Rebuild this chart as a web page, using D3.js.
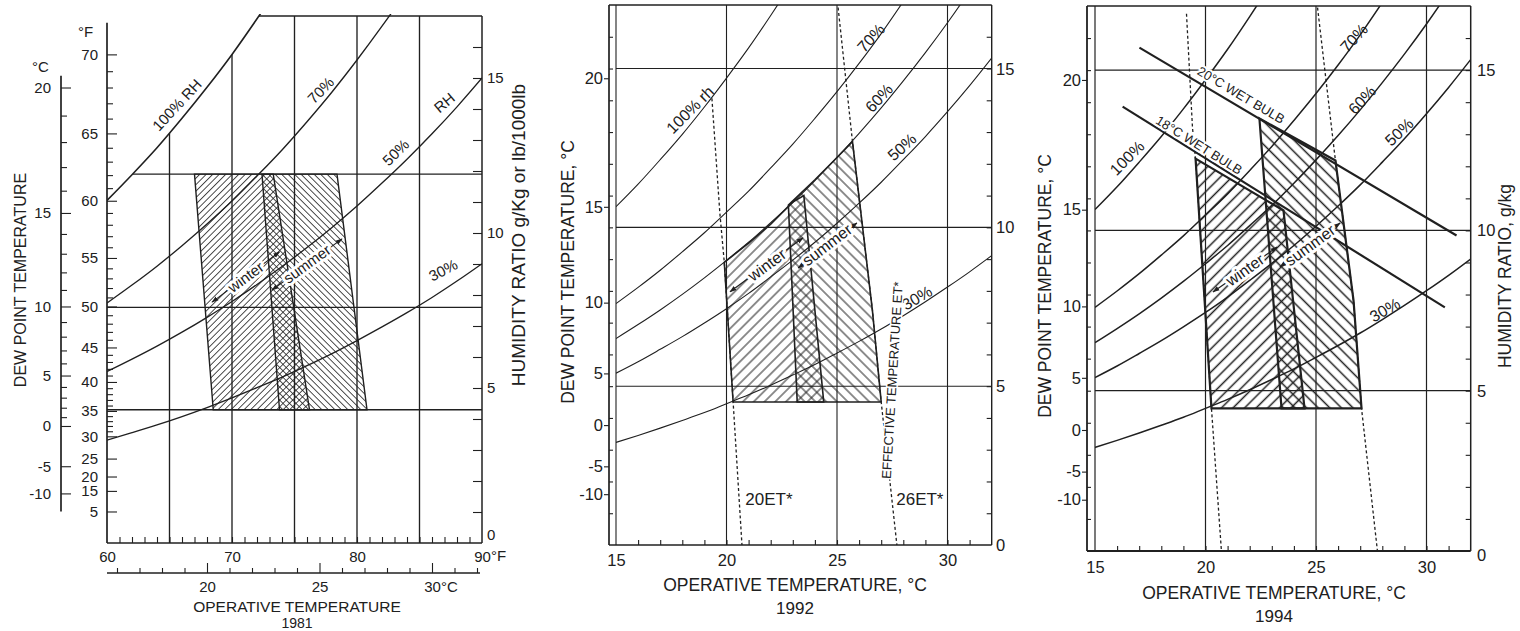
<!DOCTYPE html>
<html><head><meta charset="utf-8">
<script src="https://cdn.jsdelivr.net/npm/d3@7/dist/d3.min.js"></script>
<style>html,body{margin:0;padding:0;background:#fff;overflow:hidden}svg{display:block}</style>
</head><body>
<svg id="chart" width="1520" height="631"></svg>
<script>
// ================= DATA =================
// --- 1981 panel: operative temperature in °F, humidity ratio in g/kg ---
const tempF  = [60,62,64,66,68,70,72,74,76,78,80,82,84,86,88,90];
const rh100F = [11.05,11.88,12.75,13.70,14.70,15.76,16.91,18.12,19.41,20.79,22.25,23.81,25.45,27.20,29.07,31.06];
const rh70F  = [7.74,8.32,8.93,9.59,10.29,11.03,11.84,12.68,13.59,14.55,15.58,16.67,17.82,19.04,20.35,21.74];
const rh50F  = [5.53,5.93,6.35,6.80,7.28,7.79,8.34,8.92,9.53,10.18,10.87,11.61,12.38,13.20,14.07,15.00];
const rh30F  = [3.32,3.56,3.81,4.08,4.37,4.68,5.01,5.35,5.72,6.11,6.53,6.97,7.43,7.92,8.45,9.01];
const gridF1981 = [65,70,75,80,85];
const gridW1981 = [11.9,7.6,4.3];
const winter1981 = [[67.0,11.9],[73.3,11.9],[76.2,4.3],[68.5,4.3]];
const summer1981 = [[72.4,11.9],[78.4,11.9],[80.8,4.3],[73.8,4.3]];
const opTicksF1981 = [60,70,80,90];
const opTicksC1981 = [20,25,30];
const dewTicksF1981 = [70,65,60,55,50,45,40,35,30,25,20,15,5];
const dewTicksC = [20,15,10,5,0,-5,-10];
const humTicks = [0,5,10,15];

// --- 1992 / 1994 panels: operative temperature in °C, humidity ratio in g/kg ---
const tempC  = [15,16,17,18,19,20,21,22,23,24,25,26,27,28,29,30,31,32];
const rh100C = [10.65,11.36,12.13,12.93,13.79,14.70,15.65,16.67,17.74,18.88,20.08,21.35,22.70,24.12,25.62,27.20,28.88,30.65];
const rh70C  = [7.60,8.11,8.65,9.23,9.83,10.48,11.14,11.87,12.62,13.43,14.27,15.16,16.10,17.11,18.15,19.27,20.44,21.68];
const rh60C  = [6.50,6.94,7.40,7.89,8.41,8.96,9.53,10.15,10.78,11.47,12.20,12.96,13.76,14.61,15.50,16.44,17.44,18.49];
const rh50C  = [5.41,5.77,6.16,6.56,6.99,7.44,7.92,8.44,8.97,9.53,10.13,10.76,11.42,12.13,12.86,13.64,14.46,15.33];
const rh30C  = [3.23,3.45,3.68,3.92,4.17,4.45,4.73,5.03,5.35,5.68,6.04,6.41,6.80,7.22,7.66,8.12,8.60,9.11];
const gridC = [15,20,25,30];
const gridW = [5,10,15];
const opTicksC = [15,20,25,30];

const winter1992 = [[19.9,8.9],[21,9.5],[22,10.1],[23,10.8],[23.5,11.0],[24.4,4.5],[20.3,4.5]];
const summer1992 = [[22.8,10.7],[24,11.5],[25,12.2],[25.7,12.7],[26.6,7.4],[27.0,4.5],[23.2,4.5]];
const et20_1992 = [[19.34,14.06],[19.7,10.44],[19.9,8.9],[20.3,4.5],[20.7,0]];
const et26_1992 = [[25.05,16.92],[25.7,12.7],[26.6,7.4],[27.0,4.5],[27.71,0]];

const winter1994 = [[19.55,12.24],[23.53,10.62],[24.48,4.45],[20.27,4.45]];
const summer1994 = [[22.44,13.49],[25.88,12.18],[26.7,7.8],[27.06,4.45],[23.44,4.45]];
const et20_1994 = [[19.14,16.76],[19.41,13.21],[19.55,12.24],[20.27,4.45],[20.72,0]];
const et26_1994 = [[25.07,16.95],[25.84,12.4],[26.7,7.8],[27.06,4.45],[27.78,0]];
const wetBulb20 = [[17.01,15.70],[31.36,9.84]];
const wetBulb18 = [[16.25,13.86],[30.83,7.60]];

// ================= SETUP =================
const FONT = "'Liberation Sans', Arial, Helvetica, sans-serif";
const INK = "#202020";
const svg = d3.select("#chart");
const defs = svg.append("defs");
svg.append("rect").attr("width",1520).attr("height",631).attr("fill","#fff");

function hatch(id, s, angle, w){
  const p = defs.append("pattern").attr("id",id).attr("patternUnits","userSpaceOnUse")
    .attr("width",s).attr("height",s).attr("patternTransform",`rotate(${angle})`);
  p.append("line").attr("x1",s/2).attr("x2",s/2).attr("y1",0).attr("y2",s)
    .attr("stroke",INK).attr("stroke-width",w);
}
hatch("h81w",4.6,45,0.8);  hatch("h81s",4.6,-45,0.8);
hatch("h92w",7.6,45,1.0);  hatch("h92s",7.6,-45,1.0);
hatch("h94w",8.2,45,1.5);  hatch("h94s",8.2,-45,1.5);

defs.append("marker").attr("id","arr").attr("viewBox","0 0 10 10").attr("refX",9).attr("refY",5)
  .attr("markerWidth",7).attr("markerHeight",7).attr("orient","auto-start-reverse")
  .attr("markerUnits","userSpaceOnUse")
  .append("path").attr("d","M0,1.5 L10,5 L0,8.5 Z").attr("fill",INK);

// saturation humidity ratio (g/kg) at a dew point (°C): used to build the dew-point scales
function pws(t){ return t>=0 ? 0.61121*Math.exp((18.678-t/234.5)*(t/(257.14+t)))
                              : 0.61115*Math.exp((23.036-t/333.7)*(t/(279.82+t))); }
function satW(t){ const p = pws(t); return 622*p/(101.325-p); }
function dewScale(yS, conv){
  conv = conv || (d=>d);
  const f = d => yS(satW(conv(d)));
  f.copy = () => f; f.range = () => yS.range(); f.domain = () => yS.domain();
  return f;
}

const zip = (a,b) => a.map((v,i)=>[v,b[i]]);
function seg(g,x1,y1,x2,y2,w,dash){
  const l = g.append("line").attr("x1",x1).attr("y1",y1).attr("x2",x2).attr("y2",y2)
    .attr("stroke",INK).attr("stroke-width",w||1.1);
  if(dash) l.attr("stroke-dasharray",dash);
  return l;
}
function addText(g,x,y,s,o){
  o = o||{};
  const t = g.append("text").attr("x",x).attr("y",y).text(s)
    .attr("font-family",FONT).attr("font-size",o.size||16).attr("fill",INK)
    .attr("text-anchor",o.anchor||"middle");
  if(o.rotate!==undefined) t.attr("transform",`rotate(${o.rotate},${x},${y})`);
  if(o.dy) t.attr("dy",o.dy);
  if(o.halo) t.attr("stroke","#fff").attr("stroke-width",o.halo).attr("paint-order","stroke").attr("stroke-linejoin","round");
  return t;
}
function axisAt(parent,tx,ty,axis,size,w){
  const s = parent.append("g").attr("transform",`translate(${tx},${ty})`).call(axis);
  s.select(".domain").remove();
  s.selectAll(".tick line").attr("stroke",INK).attr("stroke-width",w||1.1);
  s.selectAll(".tick text").attr("fill",INK).attr("font-size",size||16).attr("font-family",FONT);
  s.attr("font-size",null).attr("font-family",null);
  return s;
}
function arrowLabel(g,x,y,a,b,label,pos,size,lw){
  const p1=[x(a[0]),y(a[1])], p2=[x(b[0]),y(b[1])];
  g.append("line").attr("x1",p1[0]).attr("y1",p1[1]).attr("x2",p2[0]).attr("y2",p2[1])
    .attr("stroke",INK).attr("stroke-width",lw||1.1)
    .attr("marker-start","url(#arr)").attr("marker-end","url(#arr)");
  const ang = Math.atan2(p2[1]-p1[1],p2[0]-p1[0])*180/Math.PI;
  addText(g,x(pos[0]),y(pos[1]),label,{size:size,rotate:ang,halo:6,dy:"0.35em"});
}

// ================= PANEL 1 : 1981 =================
(function(){
  const g = svg.append("g");
  const x  = d3.scaleLinear().domain([60,90]).range([107,482]);
  const xc = d3.scaleLinear().domain([(60-32)/1.8,(90-32)/1.8]).range([107,482]);
  const y  = d3.scaleLinear().domain([0,17]).range([543,16]);
  const dewF = dewScale(y, f=>(f-32)/1.8), dewC = dewScale(y);
  const sat = zip(tempF, rh100F);
  defs.append("clipPath").attr("id","c81r").append("rect")
    .attr("x",x(60)).attr("y",y(17)-2).attr("width",x(90)-x(60)+2).attr("height",y(0)-y(17)+2);
  defs.append("clipPath").attr("id","c81s").append("path")
    .attr("d", d3.area().x(d=>x(d[0])).y0(y(-1)).y1(d=>y(d[1])).curve(d3.curveMonotoneX)(sat));
  const gr = g.append("g").attr("clip-path","url(#c81r)");
  const gs = gr.append("g").attr("clip-path","url(#c81s)");
  const lw = 1.35;
  gridF1981.forEach(v=>seg(gs,x(v),y(0),x(v),y(17),lw));
  gridW1981.forEach(v=>seg(gs,x(60),y(v),x(90),y(v),lw));
  seg(gs,x(60),y(17),x(90),y(17),1.5);
  const cv = d3.line().x(d=>x(d[0])).y(d=>y(d[1])).curve(d3.curveMonotoneX);
  [rh70F,rh50F,rh30F].forEach(a=>gs.append("path").attr("d",cv(zip(tempF,a)))
    .attr("fill","none").attr("stroke",INK).attr("stroke-width",lw));
  gr.append("path").attr("d",cv(sat)).attr("fill","none").attr("stroke",INK).attr("stroke-width",1.6);
  // frame
  seg(g,x(60),y(0),x(90),y(0),1.6);
  seg(g,x(90),y(0),x(90),y(17),1.5);
  seg(g,x(60),y(0),x(60),dewF(71.8),1.7);
  // comfort zones
  const poly = d3.line().x(d=>x(d[0])).y(d=>y(d[1])).curve(d3.curveLinearClosed);
  g.append("path").attr("d",poly(winter1981)).attr("fill","url(#h81w)").attr("stroke",INK).attr("stroke-width",1.4);
  g.append("path").attr("d",poly(summer1981)).attr("fill","url(#h81s)").attr("stroke",INK).attr("stroke-width",1.4);
  // labels on curves
  [["100% RH",65.6,14.13,-47],["70%",77.1,14.6,-46],["RH",87.0,14.2,-40],["50%",83.1,12.6,-45],["30%",86.9,8.8,-27]]
    .forEach(l=>addText(g,x(l[1]),y(l[2]),l[0],{size:15,rotate:l[3],dy:"0.35em"}));
  arrowLabel(g,x,y,[68.4,7.77],[73.8,9.39],"winter",[71.1,8.58],15);
  arrowLabel(g,x,y,[73.2,8.16],[78.8,9.81],"summer",[76.0,9.0],15);
  // bottom °F axis
  axisAt(g,0,y(0),d3.axisBottom(x).tickValues(d3.range(61,90)).tickSize(-6).tickFormat(""));
  axisAt(g,0,y(0),d3.axisBottom(x).tickValues(opTicksF1981).tickSize(0).tickPadding(8),15);
  addText(g,x(90)+9,561,"°F",{size:15,anchor:"start"});
  // bottom °C axis
  seg(g,x(60),573,x(90)-2,573,1.4);
  axisAt(g,0,573,d3.axisBottom(xc).tickValues(d3.range(16,33).filter(v=>v%5)).tickSize(-5).tickFormat(""));
  axisAt(g,0,573,d3.axisBottom(xc).tickValues(opTicksC1981).tickSize(-10).tickFormat(""));
  axisAt(g,0,573,d3.axisBottom(xc).tickValues(opTicksC1981).tickSize(0).tickPadding(8),15);
  addText(g,xc(30)+9,592,"°C",{size:15,anchor:"start"});
  addText(g,297,612,"OPERATIVE TEMPERATURE",{size:15.5});
  addText(g,297,628,"1981",{size:14});
  // right humidity ratio axis
  axisAt(g,x(90),0,d3.axisLeft(y).tickValues(d3.range(1,17)).tickSize(9).tickFormat(""));
  humTicks.forEach(v=>addText(g,487,y(v)+5-(v===0?8:0),String(v),{size:15,anchor:"start"}));
  addText(g,525,235,"HUMIDITY RATIO g/Kg or lb/1000lb",{size:19,rotate:-90});
  // left dew-point °F axis
  axisAt(g,x(60),0,d3.axisRight(dewF).tickValues(dewTicksF1981).tickSize(10).tickFormat(""));
  axisAt(g,x(60),0,d3.axisRight(dewF).tickValues(d3.range(31,70).filter(v=>v%5)).tickSize(6).tickFormat(""));
  axisAt(g,x(60),0,d3.axisLeft(dewF).tickValues(dewTicksF1981).tickSize(0).tickPadding(9),15);
  addText(g,78,37,"°F",{size:15,anchor:"start"});
  // left dew-point °C axis
  seg(g,61,dewC(20.4),61,dewC(-15),1.7);
  axisAt(g,61,0,d3.axisRight(dewC).tickValues(dewTicksC).tickSize(10).tickFormat(""));
  axisAt(g,61,0,d3.axisRight(dewC).tickValues(d3.range(1,20).filter(v=>v%5)).tickSize(6).tickFormat(""));
  axisAt(g,61,0,d3.axisLeft(dewC).tickValues(dewTicksC).tickSize(0).tickPadding(10),15);
  addText(g,32,72,"°C",{size:15,anchor:"start"});
  addText(g,26,280,"DEW POINT TEMPERATURE",{size:16,rotate:-90});
})();

// ================= PANELS 2 & 3 : 1992 / 1994 =================
function buildSI(o){
  const g = svg.append("g");
  const x = d3.scaleLinear().domain([15,32]).range(o.xr);
  const y = d3.scaleLinear().domain([0,17]).range(o.yr);
  const dew = dewScale(y);
  const cid = "clip"+o.year;
  defs.append("clipPath").attr("id",cid).append("rect")
    .attr("x",x(15)).attr("y",y(17)).attr("width",x(32)-x(15)).attr("height",y(0)-y(17));
  const lw = o.lw;
  gridC.forEach(v=>seg(g,x(v),y(0),x(v),y(17),lw));
  gridW.forEach(v=>seg(g,x(15),y(v),x(32),y(v),lw));
  // frame
  seg(g,o.axisX,y(17),x(32),y(17),lw+0.3);
  seg(g,o.axisX,y(0),x(32),y(0),lw+0.6);
  seg(g,o.axisX,y(0),o.axisX,y(17),lw+0.6);
  seg(g,x(32),y(0),x(32),y(17),lw+0.3);
  // RH curves
  const gc = g.append("g").attr("clip-path",`url(#${cid})`);
  const cv = d3.line().x(d=>x(d[0])).y(d=>y(d[1])).curve(d3.curveMonotoneX);
  [rh100C,rh70C,rh60C,rh50C,rh30C].forEach(a=>gc.append("path").attr("d",cv(zip(tempC,a)))
    .attr("fill","none").attr("stroke",INK).attr("stroke-width",o.cw));
  const ln = d3.line().x(d=>x(d[0])).y(d=>y(d[1]));
  [o.et20,o.et26].forEach(a=>g.append("path").attr("d",ln(a)).attr("fill","none")
    .attr("stroke",INK).attr("stroke-width",1.3).attr("stroke-dasharray","3,2.5"));
  (o.wetBulb||[]).forEach(a=>g.append("path").attr("d",ln(a)).attr("fill","none")
    .attr("stroke",INK).attr("stroke-width",o.zw));
  // zones
  const poly = d3.line().x(d=>x(d[0])).y(d=>y(d[1])).curve(d3.curveLinearClosed);
  g.append("path").attr("d",poly(o.winter)).attr("fill",`url(#${o.hw})`).attr("stroke",INK).attr("stroke-width",o.zw);
  g.append("path").attr("d",poly(o.summer)).attr("fill",`url(#${o.hs})`).attr("stroke",INK).attr("stroke-width",o.zw);
  // labels
  o.rhLabels.forEach(l=>addText(g,x(l[1]),y(l[2]),l[0],{size:16,rotate:l[3],dy:"0.35em"}));
  (o.wbLabels||[]).forEach(l=>{
    const p1=[x(l[4][0][0]),y(l[4][0][1])], p2=[x(l[4][1][0]),y(l[4][1][1])];
    const ang = Math.atan2(p2[1]-p1[1],p2[0]-p1[0])*180/Math.PI;
    addText(g,x(l[1]),y(l[2]),l[0],{size:l[3],rotate:ang,dy:"0.35em",halo:4});
  });
  (o.extraText||[]).forEach(l=>addText(g,x(l[1]),y(l[2]),l[0],{size:l[3],rotate:l[4],anchor:l[5]||"middle",dy:l[6],halo:l[7]}));
  arrowLabel(g,x,y,o.wArrow[0],o.wArrow[1],"winter",o.wArrow[2],16,1.2);
  arrowLabel(g,x,y,o.sArrow[0],o.sArrow[1],"summer",o.sArrow[2],16,1.2);
  // axes
  axisAt(g,0,y(0),d3.axisBottom(x).tickValues(d3.range(16,32)).tickSize(-5).tickFormat(""));
  axisAt(g,0,y(0),d3.axisBottom(x).tickValues(opTicksC).tickSize(0).tickPadding(o.xPad),16.5);
  axisAt(g,x(32),0,d3.axisLeft(y).tickValues(d3.range(1,17)).tickSize(5).tickFormat(""));
  humTicks.forEach(v=>addText(g,o.rLabX,y(v)+6+(v===0?o.zeroShift:0),String(v),{size:16.5,anchor:"start"}));
  axisAt(g,o.axisX,0,d3.axisRight(y).tickValues(d3.range(1,17)).tickSize(4).tickFormat(""));
  axisAt(g,o.axisX,0,d3.axisLeft(dew).tickValues(dewTicksC).tickSize(5).tickPadding(1),16.5);
  // titles
  addText(g,o.ltX,o.ltY,"DEW POINT TEMPERATURE, °C",{size:17.5,rotate:-90});
  addText(g,x(23.1),o.titleY,"OPERATIVE TEMPERATURE, °C",{size:17.5});
  addText(g,x(23.1),o.titleY+23,String(o.year),{size:17});
  if(o.rightTitle) addText(g,o.rightTitle[1],o.rightTitle[2],o.rightTitle[0],{size:17.5,rotate:-90});
}

buildSI({
  year:1992, xr:[616,991.7], yr:[545,5], axisX:609, lw:1.1, cw:1.1, zw:1.6,
  hw:"h92w", hs:"h92s", winter:winter1992, summer:summer1992, et20:et20_1992, et26:et26_1992,
  rhLabels:[["100% rh",18.35,13.70,-45],["70%",26.54,15.96,-47],["60%",26.90,14.07,-47],["50%",27.94,12.53,-42],["30%",28.62,7.78,-30]],
  extraText:[["20ET*",20.85,1.26,17,0,"start",null,null],["26ET*",27.68,1.26,17,0,"start",null,null],
             ["EFFECTIVE TEMPERATURE ET*",27.5,5.19,13,-86.5,"middle","0.35em",3]],
  wArrow:[[20.16,7.97],[23.46,9.67],[21.83,8.82]],
  sArrow:[[23.24,8.72],[25.9,10.14],[24.55,9.45]],
  xPad:9.5, rLabX:996, zeroShift:0, ltX:574, ltY:272, titleY:591
});

buildSI({
  year:1994, xr:[1095,1470.7], yr:[551,6], axisX:1087, lw:1.2, cw:1.5, zw:2.2,
  hw:"h94w", hs:"h94s", winter:winter1994, summer:summer1994, et20:et20_1994, et26:et26_1994,
  wetBulb:[wetBulb20, wetBulb18],
  rhLabels:[["100%",16.45,12.26,-45],["70%",26.72,16.0,-47],["60%",27.08,14.07,-47],["50%",28.76,13.07,-43],["30%",28.12,7.52,-30]],
  wbLabels:[["20°C WET BULB",21.61,14.22,13,wetBulb20],["18°C WET BULB",19.71,12.66,13,wetBulb18]],
  wArrow:[[20.34,8.08],[23.24,9.48],[21.79,8.77]],
  sArrow:[[23.37,8.86],[26.09,10.23],[24.73,9.54]],
  xPad:10.5, rLabX:1477, zeroShift:4, ltX:1051, ltY:286, titleY:599,
  rightTitle:["HUMIDITY RATIO, g/kg",1511,276]
});
</script>
</body></html>
